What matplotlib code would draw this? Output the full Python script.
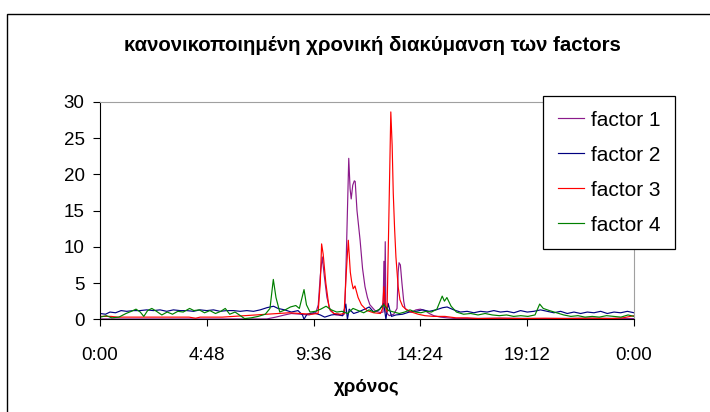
import matplotlib.pyplot as plt
from matplotlib.patches import Rectangle

plt.rcParams['font.family'] = ['Liberation Sans', 'DejaVu Sans']

title = "κανονικοποιημένη χρονική διακύμανση των factors"
xlabel = "χρόνος"
labels = ["factor 1", "factor 2", "factor 3", "factor 4"]
colors = ["#8b1a8b", "#000080", "#ff0000", "#008000"]

# time in hours (0-24)
f1_t = [0, 2, 4, 6, 7.5, 7.9, 8.3, 8.6, 9.0, 9.4, 9.7, 9.81, 9.9, 9.99, 10.08, 10.2,
        10.35, 10.6, 10.9, 11.0, 11.08, 11.18, 11.24, 11.29, 11.36, 11.43, 11.47, 11.55,
        11.69, 11.8, 11.91, 12.02, 12.13, 12.36, 12.6, 12.72, 12.76, 12.79, 12.82, 12.85,
        13.0, 13.2, 13.35, 13.4, 13.44, 13.5, 13.57, 13.65, 13.71, 13.85, 14.0, 14.2,
        14.4, 14.6, 14.8, 15.0, 15.3, 15.6, 16.0, 18.0, 20.0, 22.0, 24.0]
f1_v = [0.05, 0.05, 0.05, 0.05, 0.05, 0.3, 0.6, 0.8, 0.7, 0.6, 0.9, 2.0, 6.0, 8.6, 6.0, 3.0,
        1.2, 0.6, 0.5, 0.8, 10.0, 22.2, 18.0, 16.6, 18.5, 19.1, 19.0, 15.0,
        10.9, 7.0, 4.5, 3.0, 2.0, 1.2, 0.9, 1.0, 8.0, 2.0, 10.7, 1.0,
        0.5, 0.7, 1.5, 6.5, 7.8, 7.5, 5.0, 2.5, 1.5, 1.1, 1.0, 1.3,
        1.4, 1.2, 0.8, 0.5, 0.3, 0.2, 0.1, 0.15, 0.1, 0.15, 0.1]

f2_t = [0, 0.25, 0.45, 0.7, 0.95, 1.2, 1.5, 1.8, 2.1, 2.4, 2.7, 3.0, 3.3, 3.6, 3.9, 4.2,
        4.5, 4.8, 5.1, 5.4, 5.7, 6.0, 6.3, 6.6, 6.9, 7.2, 7.5, 7.8, 8.0, 8.3, 8.6, 8.9,
        9.1, 9.17, 9.3, 9.6, 9.9, 10.1, 10.4, 10.7, 10.9, 11.05, 11.12, 11.2, 11.4, 11.6,
        11.9, 12.1, 12.3, 12.55, 12.75, 12.85, 12.95, 13.1, 13.3, 13.6, 13.9, 14.2, 14.5,
        14.8, 15.1, 15.4, 15.6, 15.9, 16.2, 16.5, 16.8, 17.1, 17.4, 17.7, 18.0, 18.3,
        18.6, 18.9, 19.2, 19.5, 19.8, 20.1, 20.4, 20.7, 21.0, 21.3, 21.6, 21.9, 22.2,
        22.5, 22.8, 23.1, 23.4, 23.7, 24.0]
f2_v = [0.8, 0.7, 1.0, 0.9, 1.2, 1.1, 1.2, 1.2, 1.3, 1.2, 1.3, 1.1, 1.3, 1.2, 1.2, 1.1,
        1.3, 1.2, 1.3, 1.1, 1.2, 1.2, 1.1, 1.2, 1.1, 1.3, 1.6, 1.8, 1.5, 1.3, 1.0, 1.2,
        0.6, 0.0, 0.7, 0.9, 0.6, 0.3, 0.6, 0.7, 0.5, 2.1, 0.0, 1.4, 0.8, 1.0,
        1.4, 1.7, 1.0, 1.3, 2.2, 0.0, 2.2, 0.4, 0.6, 0.7, 1.0, 1.1, 1.3,
        1.1, 1.3, 1.6, 1.7, 1.3, 1.0, 1.1, 0.9, 1.1, 1.0, 1.2, 1.0, 1.1,
        0.9, 1.2, 1.0, 1.1, 1.3, 1.1, 0.9, 1.1, 0.8, 1.0, 0.8, 1.0, 0.9,
        1.1, 0.8, 1.0, 0.9, 1.1, 0.9]

f3_t = [0, 0.5, 0.8, 2.0, 3.0, 4.0, 4.3, 4.5, 5.0, 5.5, 6.0, 6.5, 7.0, 7.5, 8.0, 8.5,
        9.0, 9.5, 9.8, 9.9, 9.96, 10.03, 10.15, 10.3, 10.5, 10.8, 10.97, 11.08, 11.16,
        11.25, 11.31, 11.38, 11.46, 11.6, 11.75, 12.0, 12.3, 12.6, 12.7, 12.76, 12.82,
        12.9, 12.97, 13.07, 13.13, 13.18, 13.24, 13.3, 13.4, 13.48, 13.6, 13.75, 14.0,
        14.3, 14.6, 15.0, 15.5, 16.0, 16.5, 17.0, 18.0, 19.0, 20.0, 21.0, 22.0, 23.0,
        23.5, 24.0]
f3_v = [0.4, 0.4, 0.3, 0.3, 0.3, 0.3, 0.15, 0.3, 0.3, 0.3, 0.4, 0.5, 0.6, 0.7, 0.8, 0.9,
        0.8, 0.7, 0.8, 5.0, 10.4, 9.0, 5.0, 1.5, 0.8, 0.7, 0.8, 7.0, 10.9,
        6.5, 5.2, 4.2, 4.6, 3.0, 2.0, 1.2, 0.9, 0.8, 1.5, 4.5, 2.0,
        1.0, 12.0, 28.6, 24.0, 17.4, 12.5, 8.6, 4.5, 2.7, 1.8, 1.4, 1.0,
        0.7, 0.5, 0.4, 0.4, 0.2, 0.2, 0.1, 0.15, 0.1, 0.15, 0.1, 0.15, 0.1,
        0.2, 0.5]

f4_t = [0, 0.29, 0.53, 0.85, 1.17, 1.41, 1.62, 1.81, 1.97, 2.14, 2.33, 2.54, 2.78, 3.02,
        3.26, 3.50, 3.74, 4.03, 4.22, 4.46, 4.70, 4.94, 5.19, 5.43, 5.63, 5.83, 6.07,
        6.31, 6.50, 6.79, 7.11, 7.43, 7.64, 7.79, 7.91, 8.08, 8.32, 8.56, 8.80, 8.96,
        9.17, 9.28, 9.44, 9.68, 9.92, 10.16, 10.40, 10.64, 10.88, 11.13, 11.37, 11.61,
        11.85, 12.09, 12.33, 12.57, 12.76, 12.97, 13.21, 13.45, 13.69, 13.93, 14.18,
        14.42, 14.66, 14.90, 15.14, 15.38, 15.48, 15.59, 15.78, 16.02, 16.34, 16.66,
        16.99, 17.31, 17.63, 17.95, 18.27, 18.59, 18.91, 19.23, 19.55, 19.76, 19.92,
        20.20, 20.52, 20.84, 21.16, 21.48, 21.80, 22.12, 22.44, 22.76, 23.09, 23.41,
        23.73, 24.0]
f4_v = [0.3, 0.5, 0.2, 0.3, 0.8, 1.1, 1.4, 1.0, 0.4, 1.2, 1.5, 1.1, 0.6, 1.0,
        0.7, 1.1, 1.0, 1.5, 1.2, 1.3, 0.9, 1.2, 0.8, 1.1, 1.5, 0.7, 1.0,
        0.5, 0.1, 0.2, 0.4, 0.7, 1.5, 5.5, 3.0, 1.0, 1.3, 1.7, 1.9, 1.5,
        4.1, 2.0, 1.0, 1.1, 1.4, 1.8, 1.3, 1.0, 1.1, 0.8, 1.5, 1.2,
        0.9, 1.3, 1.0, 1.4, 2.0, 1.2, 1.0, 0.8, 1.0, 1.3, 1.0,
        0.9, 1.1, 1.0, 1.4, 3.2, 2.5, 3.0, 1.8, 1.0, 0.7, 0.8,
        0.6, 0.8, 0.6, 0.5, 0.6, 0.4, 0.5, 0.4, 0.6, 2.1, 1.5,
        1.2, 0.9, 0.6, 0.4, 0.5, 0.3, 0.4, 0.3, 0.5, 0.4, 0.3,
        0.6, 0.4]

xticks = [0, 4.8, 9.6, 14.4, 19.2, 24]
xticklabels = ["0:00", "4:48", "9:36", "14:24", "19:12", "0:00"]

fig = plt.figure(figsize=(7.1, 4.12), dpi=100)
ax = fig.add_axes([0.1408, 0.225, 0.7522, 0.528])

for t, v, lab, c in zip([f1_t, f2_t, f3_t, f4_t], [f1_v, f2_v, f3_v, f4_v], labels, colors):
    ax.plot(t, v, color=c, lw=0.85, label=lab)

ax.set_xlim(0, 24)
ax.set_ylim(0, 30)
ax.set_yticks(range(0, 31, 5))
ax.set_xticks(xticks)
ax.set_xticklabels(xticklabels)
ax.tick_params(axis='both', direction='out', length=5, width=0.8, labelsize=13.5, colors='black')
ax.tick_params(axis='x', pad=15)
ax.tick_params(axis='y', pad=6)
ax.spines['left'].set_color('black')
ax.spines['bottom'].set_color('black')
ax.spines['top'].set_color('#a0a0a0')
ax.spines['right'].set_color('#a0a0a0')
for s in ax.spines.values():
    s.set_linewidth(0.8)

fig.text(0.524, 0.89, title, ha='center', va='center', fontsize=14.7, fontweight='bold')
ax.set_xlabel(xlabel, fontsize=13.5, fontweight='bold', labelpad=11)

leg = fig.legend(loc='upper left', bbox_to_anchor=(543 / 710, 1 - 96 / 412), fontsize=15,
                 frameon=True, fancybox=False, edgecolor='black', framealpha=1,
                 handlelength=1.25, handletextpad=0.35, labelspacing=0.77, borderpad=0.7,
                 borderaxespad=0)
leg.get_frame().set_linewidth(0.9)

# outer chart border (right and bottom edges lie outside the picture)
fig.patches.append(Rectangle((7 / 710, -10 / 412), 720 / 710, 408 / 412, transform=fig.transFigure,
                             fill=False, edgecolor='black', lw=1.0))

fig.savefig('out.png', dpi=100)
